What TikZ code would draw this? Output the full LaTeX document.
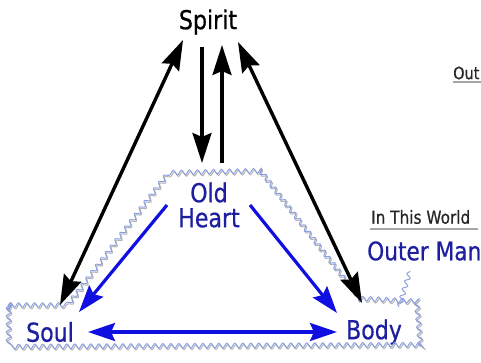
\documentclass[tikz,border=0pt]{standalone}
\usepackage{fontspec}
\setmainfont{DejaVu Sans}[FakeStretch=0.85,FakeBold=0.6]
\usetikzlibrary{arrows.meta,decorations.pathmorphing}

\definecolor{inkblue}{RGB}{30,30,160}
\definecolor{arrblue}{RGB}{15,15,225}
\definecolor{wavblue}{RGB}{140,160,225}

\tikzset{
  bhead/.tip={Stealth[length=30pt,width=19pt,inset=4pt]},
  lhead/.tip={Stealth[length=27pt,width=18pt,inset=4pt]},
  blk/.style={line width=3.4pt, black, -bhead},
  blu/.style={line width=3.2pt, arrblue, -lhead},
  word/.style={inner sep=0pt, font=\fontsize{26}{25}\selectfont},
  wave/.style={wavblue, line width=1pt, decorate,
    decoration={snake, amplitude=2.3pt, segment length=8pt}},
}

\begin{document}
\begin{tikzpicture}[x=1pt,y=-1pt]
\clip (0,0) rectangle (481,363);
\useasboundingbox (0,0) rectangle (481,363);

\node[word] (spirit) at (208,22) {Spirit};
\node[word, inkblue, align=center] (heart) at (209,205) {Old\\Heart};
\node[word, inkblue] (soul) at (50,332) {Soul};
\node[word, inkblue] (body) at (374,332) {Body};

% the two worlds
\node[inner sep=0pt, anchor=west, font=\fontsize{17}{19}\selectfont, black!85] (out) at (453,73) {Out};
\draw[gray!70, line width=1.3pt] (453,82) -- (481,82);
\node[inner sep=0pt, anchor=west, font=\fontsize{18}{20}\selectfont, black!85] (world) at (371,217) {In This World};
\draw[gray!70, line width=1.5pt] (370,229) -- (478,229);
\node[inner sep=0pt, anchor=west, inkblue, font=\fontsize{25.5}{27}\selectfont] (outer) at (367,251) {Outer Man};

% wavy outline round the outer man
\begin{scope}[shift={(1,1.5)}]
\draw[wave, gray!60] (8,305) -- (64,305) -- (163,175) -- (255,173) -- (357,304)
  -- (416,307) -- (420,353) -- (8,355) -- cycle;
\end{scope}
\draw[wave] (8,305) -- (64,305) -- (163,175) -- (255,173) -- (357,304)
  -- (416,307) -- (420,353) -- (8,355) -- cycle;
\draw[wave] (399,307) -- (410,271);

% spirit arrows
\draw[blk, bhead-bhead] ([shift={(10,-27)}]soul.center) -- ([shift={(-25,18)}]spirit.center);
\draw[blk, bhead-bhead] ([shift={(-12,-29)}]body.center) -- ([shift={(30,20)}]spirit.center);
\draw[blk] ([shift={(-6,25)}]spirit.center) -- ([shift={(-7,-42)}]heart.center);
\draw[blk] ([shift={(13,-42)}]heart.center) -- ([shift={(14,23)}]spirit.center);

% heart arrows
\draw[blu] ([shift={(-42,0)}]heart.center) -- ([shift={(29,-20)}]soul.center);
\draw[blu] ([shift={(41,0)}]heart.center) -- ([shift={(-37,-19)}]body.center);
\draw[blu, lhead-lhead] ([shift={(38,0)}]soul.center) -- ([shift={(-37,0)}]body.center);
\end{tikzpicture}
\end{document}
